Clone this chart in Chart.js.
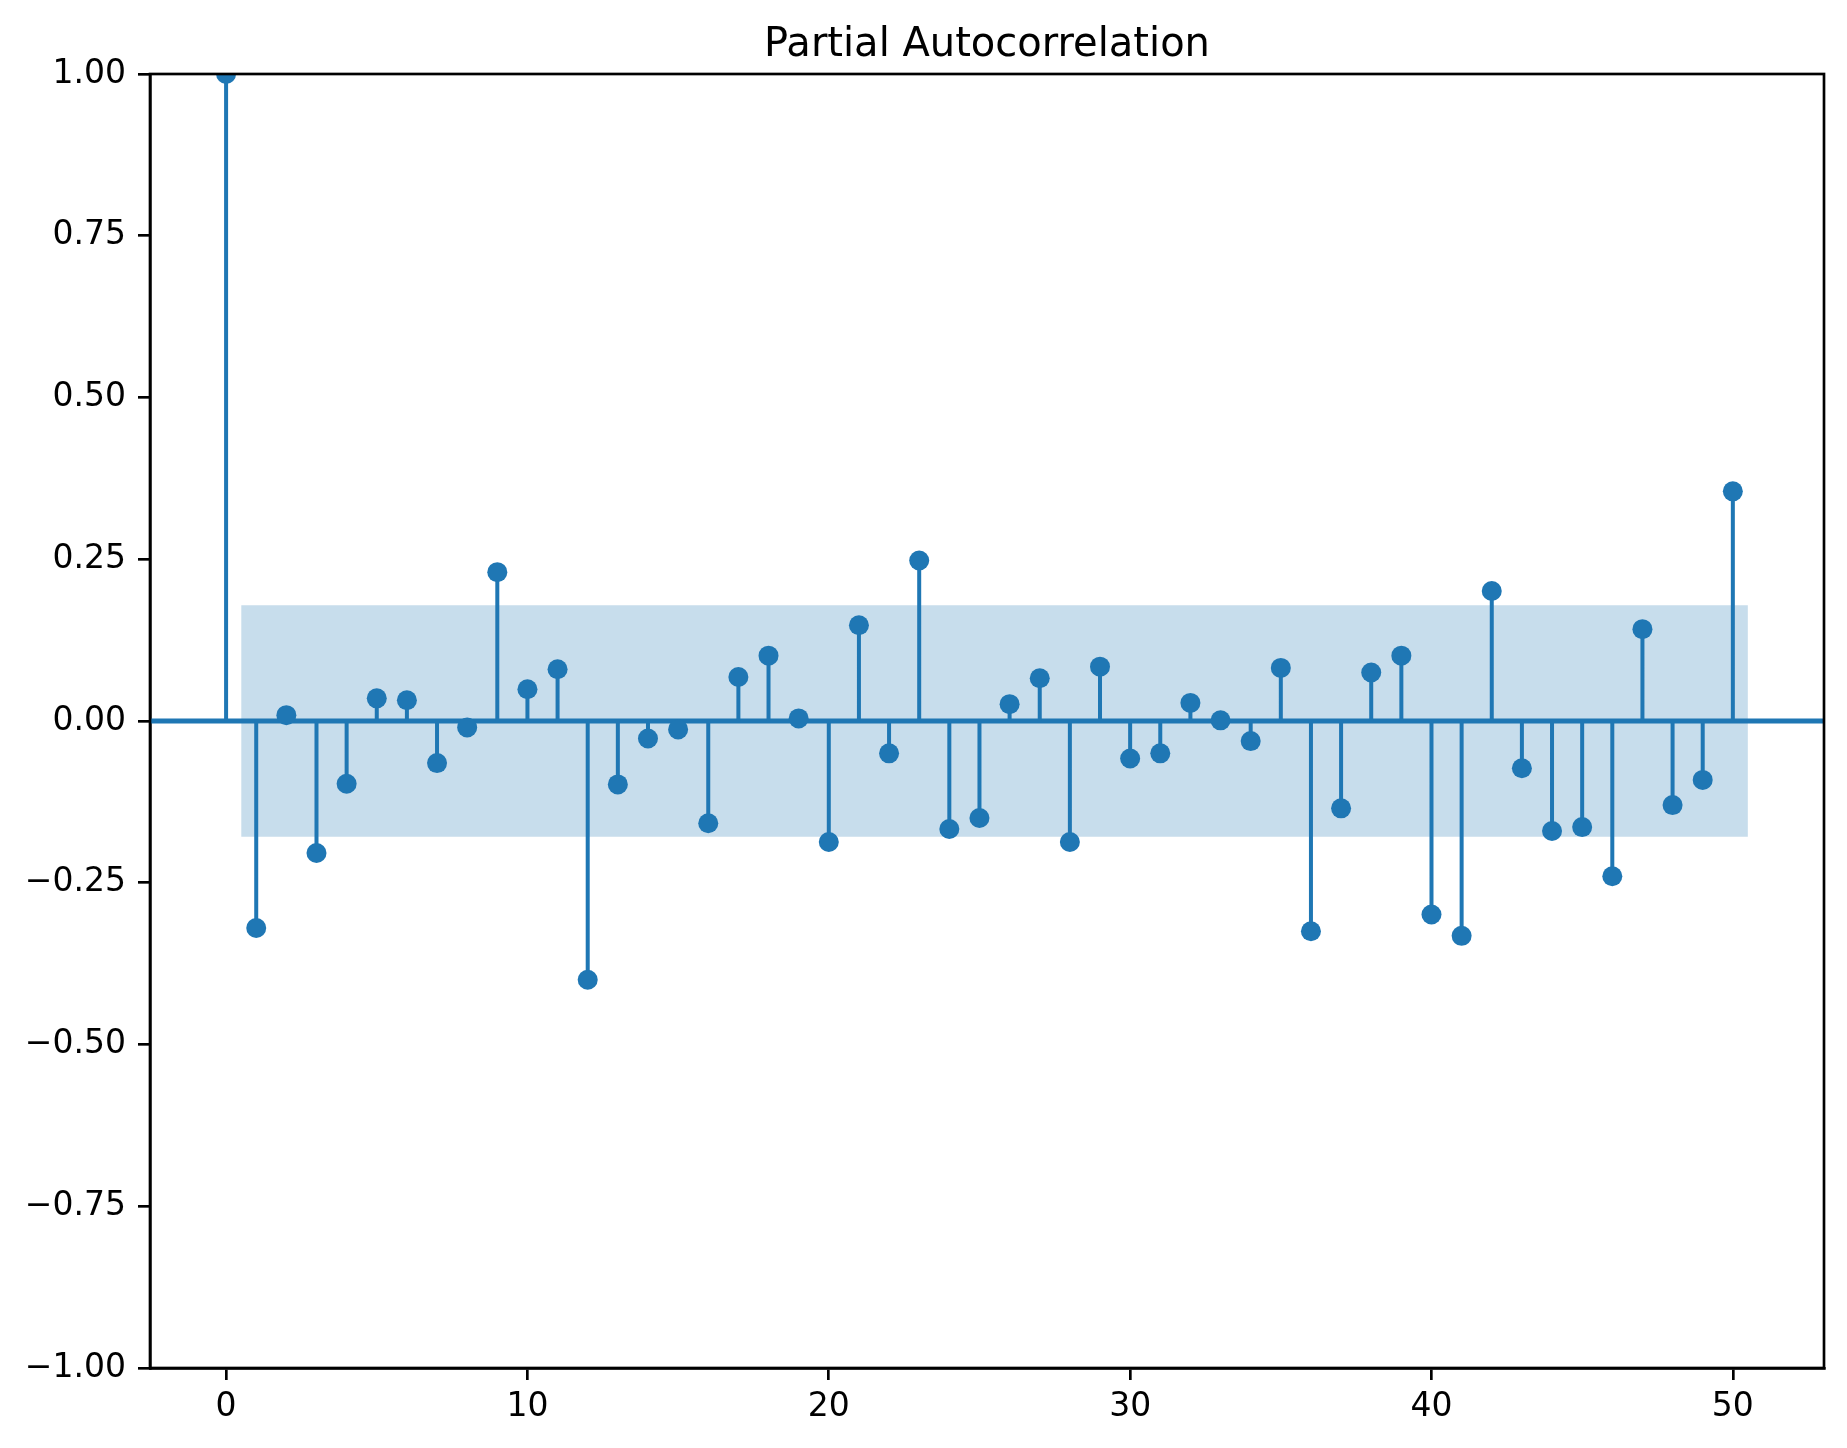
<!DOCTYPE html>
<html>
<head>
<meta charset="utf-8">
<title>Partial Autocorrelation</title>
<script src="https://cdn.jsdelivr.net/npm/chart.js@4/dist/chart.umd.min.js"></script>
<style>
  html, body { margin: 0; padding: 0; background: #fff; }
  canvas { display: block; }
</style>
</head>
<body>
<canvas id="pacf" width="1847" height="1448"></canvas>
<script>
// values
const lags = [0, 1, 2, 3, 4, 5, 6, 7, 8, 9, 10, 11, 12, 13, 14, 15, 16, 17, 18, 19, 20,
  21, 22, 23, 24, 25, 26, 27, 28, 29, 30, 31, 32, 33, 34, 35, 36, 37, 38, 39, 40,
  41, 42, 43, 44, 45, 46, 47, 48, 49, 50];
const pacf = [1.0, -0.320, 0.009, -0.204, -0.097, 0.035, 0.032, -0.065, -0.010, 0.230, 0.049,
  0.080, -0.400, -0.098, -0.027, -0.013, -0.158, 0.068, 0.101, 0.004, -0.187,
  0.148, -0.050, 0.248, -0.167, -0.150, 0.026, 0.066, -0.187, 0.084, -0.058,
  -0.050, 0.028, 0.001, -0.031, 0.082, -0.325, -0.135, 0.075, 0.101, -0.299,
  -0.332, 0.201, -0.073, -0.170, -0.164, -0.240, 0.142, -0.130, -0.091, 0.355];
const confBound = 0.179;
const bandRange = [0.5, 50.5];
const xLimits = [-2.525, 53.025];
const xTicks = [0, 10, 20, 30, 40, 50];
const yTicks = [-1, -0.75, -0.5, -0.25, 0, 0.25, 0.5, 0.75, 1];
const titleText = 'Partial Autocorrelation';

const BLUE = '#1f77b4';
const FONT = "'DejaVu Sans', sans-serif";

// stems: one segment per lag, broken by a null point
const stemPoints = [];
lags.forEach((k, i) => {
  stemPoints.push({ x: k, y: 0 }, { x: k, y: pacf[i] }, { x: k, y: null });
});

// frame on all four sides + title centred over the axes (like matplotlib)
const boxPlugin = {
  id: 'box',
  afterDraw(chart) {
    const { ctx, chartArea: a } = chart;
    ctx.save();
    ctx.strokeStyle = '#000';
    ctx.lineWidth = 2.67;
    ctx.strokeRect(a.left, a.top, a.right - a.left, a.bottom - a.top);
    ctx.fillStyle = '#000';
    ctx.font = '40px ' + FONT;
    ctx.textAlign = 'center';
    ctx.textBaseline = 'alphabetic';
    ctx.fillText(titleText, (a.left + a.right) / 2, a.top - 18);
    ctx.restore();
  }
};

new Chart(document.getElementById('pacf'), {
  type: 'line',
  data: {
    datasets: [
      {
        label: 'pacf',
        data: lags.map((k, i) => ({ x: k, y: pacf[i] })),
        showLine: false,
        pointRadius: 10,
        pointBorderWidth: 0,
        pointBackgroundColor: BLUE,
        order: 0
      },
      {
        label: 'stems',
        data: stemPoints,
        borderColor: BLUE,
        borderWidth: 4,
        borderCapStyle: 'butt',
        pointRadius: 0,
        spanGaps: false,
        order: 1
      },
      {
        label: 'zero',
        data: xLimits.map(x => ({ x, y: 0 })),
        borderColor: BLUE,
        borderWidth: 5,
        pointRadius: 0,
        order: 2
      },
      {
        label: 'confint',
        data: bandRange.map(x => ({ x, y: confBound })),
        borderWidth: 0,
        pointRadius: 0,
        backgroundColor: 'rgba(31,119,180,0.25)',
        fill: { value: -confBound },
        order: 3
      }
    ]
  },
  options: {
    responsive: false,
    devicePixelRatio: 1,
    animation: false,
    clip: 0,
    layout: { padding: { left: 0, right: 23, top: 74, bottom: 0 } },
    plugins: {
      legend: { display: false },
      tooltip: { enabled: false },
      title: { display: false }
    },
    scales: {
      x: {
        type: 'linear',
        min: xLimits[0],
        max: xLimits[1],
        afterBuildTicks: s => { s.ticks = xTicks.map(v => ({ value: v })); },
        afterFit: s => { s.height = 80; },
        grid: { drawOnChartArea: false, color: '#000', lineWidth: 2.67, tickLength: 12 },
        border: { display: true, color: '#000', width: 2.67 },
        ticks: {
          color: '#000',
          font: { family: FONT, size: 33 },
          padding: 8,
          maxRotation: 0,
          callback: v => String(v)
        }
      },
      y: {
        type: 'linear',
        min: -1,
        max: 1,
        afterBuildTicks: s => { s.ticks = yTicks.map(v => ({ value: v })); },
        afterFit: s => { s.width = 150; },
        grid: { drawOnChartArea: false, color: '#000', lineWidth: 2.67, tickLength: 12 },
        border: { display: true, color: '#000', width: 2.67 },
        ticks: {
          color: '#000',
          font: { family: FONT, size: 33 },
          padding: 12,
          callback: v => (v < 0 ? '\u2212' : '') + Math.abs(v).toFixed(2)
        }
      }
    }
  },
  plugins: [boxPlugin]
});
</script>
</body>
</html>
